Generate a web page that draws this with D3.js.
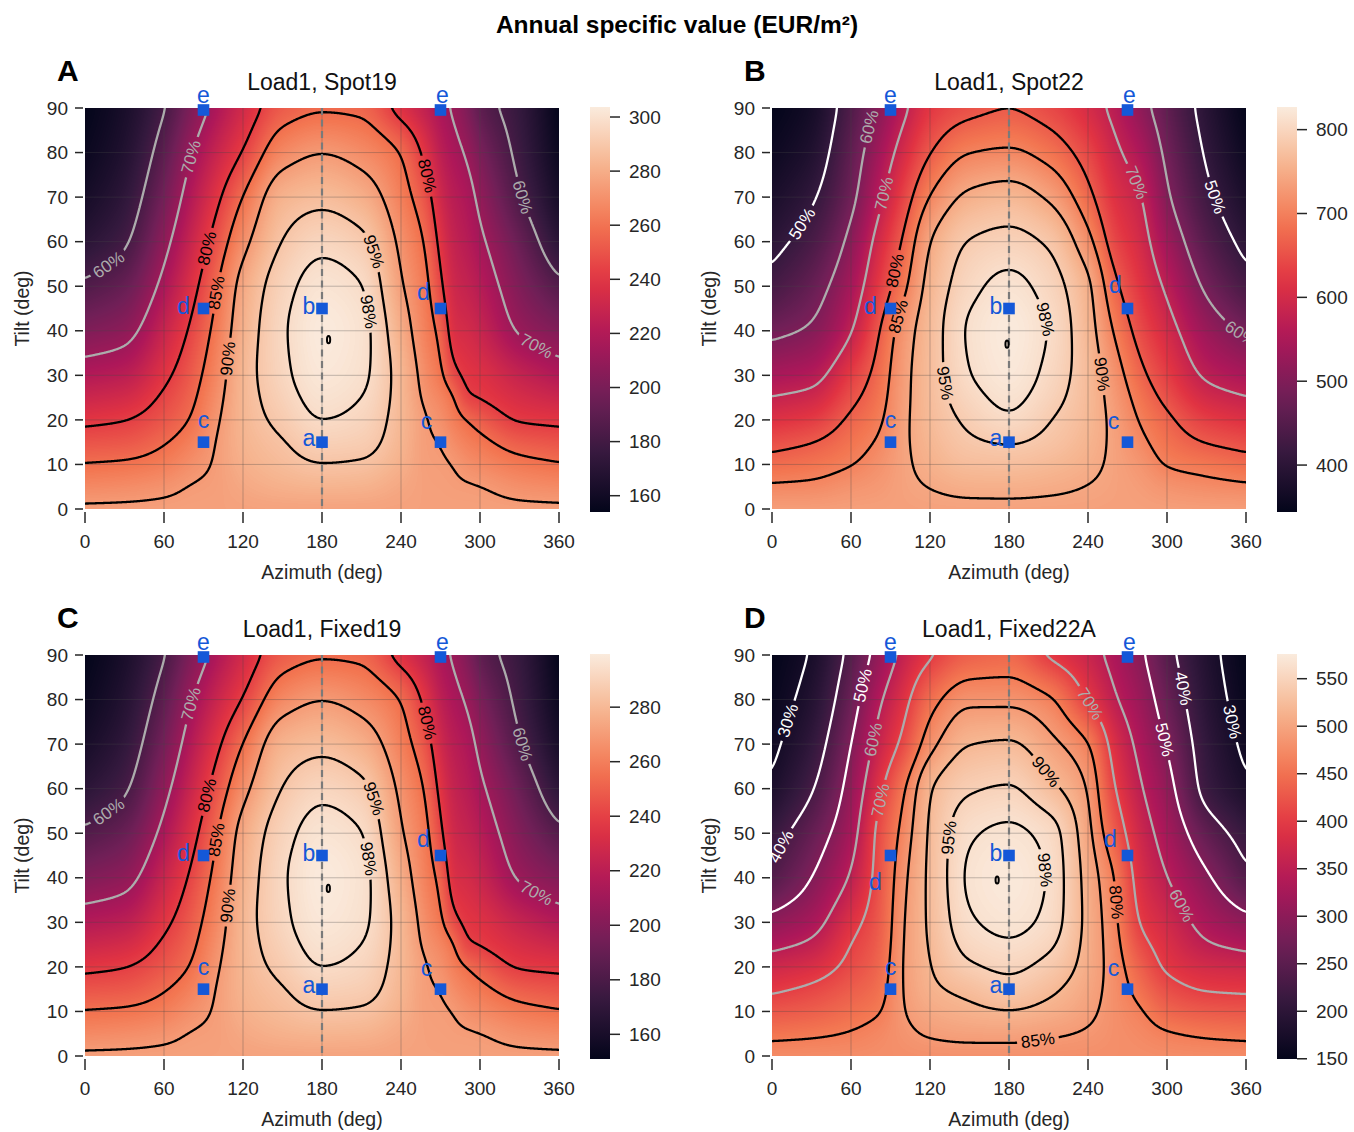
<!DOCTYPE html>
<html>
<head>
<meta charset="utf-8">
<script src="https://cdn.jsdelivr.net/npm/d3@7/dist/d3.min.js"></script>
<style>
html,body{margin:0;padding:0;background:#fff;}
svg{display:block;}
</style>
</head>
<body>
<svg id="fig" width="1354" height="1132"></svg>
<script>
// ================= DATA =================
// value grids in % of each panel's maximum; one inner array per azimuth, values along tiltGrid
const tiltGrid = [0, 5, 10, 15, 20, 25, 30, 40, 50, 60, 70, 80, 90];
const azGridSpot19 = [0, 30, 60, 80, 100, 120, 150, 180, 210, 240, 260, 270, 280, 290, 300, 330, 360];
const azGridSpot22 = [0, 30, 60, 80, 100, 120, 150, 180, 210, 240, 260, 280, 300, 330, 360];
const azGridFixed19 = [0, 30, 60, 80, 100, 120, 150, 180, 210, 240, 260, 270, 280, 290, 300, 330, 360];
const azGridFixed22A = [0, 30, 60, 80, 100, 120, 150, 180, 210, 240, 260, 280, 300, 330, 360];

const pctSpot19 = [
  [90.8, 88.0, 85.2, 82.2, 79.0, 75.7, 72.5, 66.5, 60.9, 56.0, 53.3, 51.7, 50.7],
  [90.8, 88.4, 85.6, 82.6, 79.9, 76.8, 73.7, 68.2, 63.6, 59.3, 56.8, 55.0, 53.8],
  [90.8, 89.2, 86.8, 84.7, 82.5, 80.8, 78.9, 75.3, 71.6, 68.3, 65.2, 62.4, 59.6],
  [90.8, 90.15, 88.7, 87.0, 85.2, 84.0, 82.9, 80.6, 78.0, 75.2, 72.4, 69.5, 66.0],
  [90.8, 90.6, 90.4, 90.15, 89.5, 88.7, 87.9, 86.4, 84.7, 82.0, 78.9, 75.3, 71.6],
  [90.8, 91.6, 92.4, 92.9, 93.2, 93.3, 93.3, 92.6, 91.6, 88.6, 85.1, 80.3, 76.4],
  [90.8, 92.6, 93.9, 94.8, 95.9, 96.7, 97.3, 97.6, 96.9, 95.1, 92.8, 88.0, 82.8],
  [90.8, 93.0, 94.9, 96.6, 98.0, 98.9, 99.5, 99.9, 99.1, 97.2, 94.0, 89.9, 84.3],
  [90.8, 92.8, 94.6, 96.2, 97.2, 98.0, 98.6, 98.9, 98.1, 95.9, 92.4, 88.4, 84.0],
  [90.8, 91.5, 92.5, 93.1, 93.4, 93.5, 93.4, 92.2, 90.45, 89.0, 86.9, 84.8, 77.9],
  [90.8, 90.7, 90.5, 90.3, 90.05, 89.0, 88.1, 86.6, 85.6, 84.1, 81.6, 78.1, 73.7],
  [90.8, 90.6, 90.35, 89.95, 88.9, 87.7, 86.0, 84.0, 81.0, 78.6, 76.2, 73.8, 71.4],
  [90.8, 90.4, 89.95, 88.4, 86.8, 85.3, 81.2, 77.6, 76.0, 74.7, 73.3, 71.5, 69.3],
  [90.8, 90.3, 88.8, 87.0, 85.1, 80.4, 79.1, 76.9, 74.8, 73.2, 71.9, 69.5, 66.4],
  [90.8, 90.1, 88.1, 86.1, 83.4, 79.7, 78.4, 75.4, 73.1, 71.0, 68.8, 66.0, 62.5],
  [90.8, 88.8, 86.3, 83.2, 79.6, 77.3, 75.0, 69.5, 66.6, 63.8, 60.5, 58.6, 57.5],
  [90.8, 88.2, 85.3, 82.2, 79.0, 75.7, 72.4, 66.6, 61.2, 56.0, 53.3, 51.7, 50.7]
];

const pctSpot22 = [
  [89.0, 85.6, 82.0, 78.3, 74.3, 70.2, 66.1, 58.4, 52.1, 48.2, 45.4, 43.2, 41.6],
  [89.0, 85.9, 83.0, 79.9, 75.9, 71.8, 67.8, 61.0, 56.7, 52.6, 49.2, 46.5, 44.5],
  [89.0, 87.3, 84.8, 83.0, 81.0, 78.6, 76.1, 69.6, 65.6, 61.9, 58.2, 56.0, 53.6],
  [89.0, 88.0, 86.8, 85.4, 84.0, 82.8, 81.7, 79.2, 75.2, 71.9, 67.8, 64.5, 60.8],
  [89.0, 89.2, 89.3, 89.3, 89.1, 88.8, 88.6, 87.5, 83.8, 80.8, 77.0, 72.8, 68.5],
  [89.0, 90.1, 91.2, 92.0, 92.6, 92.9, 93.0, 92.8, 91.7, 89.9, 85.2, 79.8, 75.0],
  [89.0, 91.0, 93.0, 94.5, 95.7, 96.9, 97.9, 98.4, 97.1, 95.2, 91.0, 84.9, 78.3],
  [89.0, 91.1, 93.2, 95.2, 97.5, 98.7, 99.5, 99.9, 98.8, 96.2, 92.2, 85.7, 79.6],
  [89.0, 90.7, 92.4, 94.1, 95.2, 96.4, 97.2, 97.9, 96.8, 94.5, 89.4, 83.2, 77.5],
  [89.0, 89.9, 90.9, 91.7, 92.3, 92.6, 92.7, 92.0, 91.0, 86.6, 81.6, 77.4, 72.8],
  [89.0, 89.2, 89.3, 89.2, 88.9, 88.2, 87.3, 84.6, 81.3, 77.5, 74.4, 71.4, 68.3],
  [89.0, 88.5, 87.5, 86.0, 84.6, 83.1, 81.3, 77.9, 75.0, 72.5, 70.3, 66.6, 62.3],
  [89.0, 87.3, 84.7, 82.8, 81.1, 78.6, 76.3, 72.6, 68.9, 64.9, 61.0, 58.5, 56.0],
  [89.0, 86.3, 83.4, 79.8, 76.3, 72.5, 69.1, 64.1, 58.8, 54.6, 51.4, 49.3, 47.7],
  [89.0, 85.7, 82.0, 78.3, 74.3, 70.2, 66.3, 58.8, 52.3, 48.2, 45.4, 43.2, 41.6]
];

const pctFixed19 = [
  [90.8, 88.0, 85.2, 82.2, 79.0, 75.7, 72.5, 66.5, 60.9, 56.0, 53.2, 51.5, 50.4],
  [90.8, 88.4, 85.6, 82.6, 79.9, 76.8, 73.7, 68.2, 63.6, 59.3, 56.8, 55.0, 53.6],
  [90.8, 89.2, 86.8, 84.7, 82.5, 80.8, 78.9, 75.3, 71.6, 68.3, 65.2, 62.4, 59.6],
  [90.8, 90.15, 88.7, 87.0, 85.2, 84.0, 82.9, 80.6, 78.0, 75.2, 72.4, 69.5, 66.0],
  [90.8, 90.6, 90.4, 90.15, 89.5, 88.7, 87.9, 86.4, 84.7, 82.0, 78.9, 75.3, 71.6],
  [90.8, 91.6, 92.4, 92.9, 93.2, 93.3, 93.3, 92.6, 91.6, 88.6, 85.1, 80.3, 76.4],
  [90.8, 92.6, 93.9, 94.8, 95.9, 96.7, 97.3, 97.6, 96.9, 95.1, 92.8, 88.0, 82.8],
  [90.8, 93.0, 94.9, 96.6, 98.0, 98.9, 99.5, 99.9, 99.1, 97.2, 94.0, 89.9, 84.3],
  [90.8, 92.8, 94.6, 96.2, 97.2, 98.0, 98.6, 98.9, 98.1, 95.9, 92.4, 88.4, 84.0],
  [90.8, 91.5, 92.5, 93.1, 93.4, 93.5, 93.4, 92.2, 90.45, 89.0, 86.9, 84.8, 77.9],
  [90.8, 90.7, 90.5, 90.3, 90.05, 89.0, 88.1, 86.6, 85.6, 84.1, 81.6, 78.1, 73.7],
  [90.8, 90.6, 90.35, 89.95, 88.9, 87.7, 86.0, 84.0, 81.0, 78.6, 76.2, 73.8, 71.4],
  [90.8, 90.4, 89.95, 88.4, 86.8, 85.3, 81.2, 77.6, 76.0, 74.7, 73.3, 71.5, 69.3],
  [90.8, 90.3, 88.8, 87.0, 85.1, 80.4, 79.1, 76.9, 74.8, 73.2, 71.9, 69.5, 66.4],
  [90.8, 90.1, 88.1, 86.1, 83.4, 79.7, 78.4, 75.4, 73.1, 71.0, 68.8, 66.0, 62.5],
  [90.8, 88.8, 86.3, 83.2, 79.6, 77.3, 75.0, 69.5, 66.6, 63.8, 60.5, 58.6, 57.5],
  [90.8, 88.2, 85.3, 82.2, 79.0, 75.7, 72.4, 66.6, 61.2, 56.0, 53.2, 51.5, 50.4]
];

const pctFixed22A = [
  [83.0, 78.5, 73.8, 68.9, 64.2, 58.0, 52.5, 41.8, 36.6, 31.1, 28.5, 27.0, 26.0],
  [83.0, 79.2, 75.0, 71.2, 66.5, 61.4, 56.9, 50.0, 45.0, 39.3, 35.6, 32.7, 30.5],
  [83.0, 80.4, 77.5, 74.8, 72.0, 70.1, 67.5, 61.0, 56.7, 53.4, 49.9, 46.1, 42.4],
  [83.0, 81.9, 79.4, 77.5, 76.0, 74.8, 73.8, 72.3, 71.3, 67.2, 62.2, 58.0, 52.5],
  [83.0, 83.9, 84.8, 85.2, 85.3, 85.1, 84.8, 83.8, 82.0, 79.3, 72.1, 67.5, 62.1],
  [83.0, 85.5, 87.5, 89.0, 89.8, 90.4, 90.8, 91.0, 90.7, 89.6, 83.2, 77.5, 68.8],
  [83.0, 86.3, 89.0, 91.2, 94.4, 96.3, 97.6, 98.5, 97.6, 94.5, 89.9, 83.8, 75.0],
  [83.0, 86.4, 89.8, 93.3, 95.8, 97.6, 98.8, 99.6, 98.6, 95.4, 90.6, 83.8, 76.2],
  [83.0, 85.6, 88.6, 91.0, 93.6, 95.8, 97.2, 97.8, 97.0, 91.5, 86.6, 81.0, 68.8],
  [83.0, 84.5, 86.0, 87.0, 87.9, 88.3, 88.5, 88.0, 86.5, 84.6, 80.4, 69.6, 63.0],
  [83.0, 83.2, 83.2, 83.1, 82.8, 82.2, 81.5, 80.0, 75.0, 70.5, 66.8, 61.0, 57.4],
  [83.0, 82.2, 80.5, 77.8, 75.3, 72.2, 69.5, 66.5, 63.9, 60.7, 57.6, 54.4, 51.2],
  [83.0, 80.6, 76.2, 72.6, 68.9, 66.9, 64.7, 60.2, 56.6, 53.0, 49.5, 46.0, 42.5],
  [83.0, 79.2, 74.4, 69.5, 65.4, 60.7, 57.3, 51.2, 44.5, 37.5, 35.7, 33.8, 32.4],
  [83.0, 78.5, 73.8, 68.9, 64.2, 58.0, 52.5, 41.8, 36.6, 31.1, 28.5, 27.0, 26.0]
];

const panelLetters = ["A", "B", "C", "D"];
const panelTitles = ["Load1, Spot19", "Load1, Spot22", "Load1, Fixed19", "Load1, Fixed22A"];
const panelMaxValue = [303.7, 827, 299.5, 576];          // EUR/m² at 100 %
const peakAz = [185, 178.5, 184.8, 171];
const peakTilt = [38, 37, 37.6, 39.5];

const levelsSpot19 = [60, 70, 80, 85, 90, 95, 98];
const levelsSpot22 = [50, 60, 70, 80, 85, 90, 95, 98];
const levelsFixed19 = [60, 70, 80, 85, 90, 95, 98];
const levelsFixed22A = [30, 40, 50, 60, 70, 80, 85, 90, 95, 98];

// contour label spots: [level, azimuth, tilt]
const labelsSpot19 = [[60,20,54],[70,81,79],[80,91,58.6],[85,100,48.4],[90,108.6,33.7],[95,217.7,57.5],[98,215,44.3],[80,261,74.9],[60,335.4,70.3],[70,343,36.7]];
const labelsSpot22 = [[50,26,63.5],[60,71.5,86],[70,81.6,71],[80,91.7,53.7],[85,98,43],[95,132,28.4],[98,208.4,42.7],[90,252.7,30.3],[70,278,73.4],[50,338.7,70.3],[60,356,39.3]];
const labelsFixed19 = [[60,20,54],[70,81,79],[80,91,58.6],[85,100,48.4],[90,108.6,33.7],[95,217.7,57.5],[98,215,44.3],[80,261,74.9],[60,335.4,70.3],[70,343,36.7]];
const labelsFixed22A = [[30,16,74.8],[40,14.6,45.8],[50,69,83.1],[60,76.5,71],[70,82.8,57.3],[95,134.6,49],[90,206,63.4],[98,195.7,41.4],[80,261.5,34.5],[85,202,3.4],[70,242.5,79.3],[50,298,71],[40,312,82.4],[30,346,74.8],[60,309.6,33.4]];

const cbTicksSpot19 = [160, 180, 200, 220, 240, 260, 280, 300];
const cbTicksSpot22 = [400, 500, 600, 700, 800];
const cbTicksFixed19 = [160, 180, 200, 220, 240, 260, 280];
const cbTicksFixed22A = [150, 200, 250, 300, 350, 400, 450, 500, 550];

const azTicks = [0, 60, 120, 180, 240, 300, 360];
const tiltTicks = [0, 10, 20, 30, 40, 50, 60, 70, 80, 90];

const markerNames = ["a", "b", "c", "c", "d", "d", "e", "e"];
const markerAz = [180, 180, 90, 270, 90, 270, 90, 270];
const markerTilt = [15, 45, 15, 15, 45, 45, 90, 90];

// ================= LAYOUT / STYLE =================
const FONT = "'Liberation Sans', Arial, Helvetica, sans-serif";
const W = 474, H = 401;
const origins = [{x: 85, y: 108}, {x: 772, y: 108}, {x: 85, y: 655}, {x: 772, y: 655}];
const grids = [pctSpot19, pctSpot22, pctFixed19, pctFixed22A];
const azGrids = [azGridSpot19, azGridSpot22, azGridFixed19, azGridFixed22A];
const levelSets = [levelsSpot19, levelsSpot22, levelsFixed19, levelsFixed22A];
const labelSets = [labelsSpot19, labelsSpot22, labelsFixed19, labelsFixed22A];
const cbTickSets = [cbTicksSpot19, cbTicksSpot22, cbTicksFixed19, cbTicksFixed22A];
const markerLabelOffsets = [[-13,4],[-13,5],[0,-14],[-14,-13],[-20,5],[-17,-9],[0,-7],[2,-7]];
const markerOffsetOverrides = {1: {5: [-12,-16]}, 3: {4: [-15,34]}};
const BLUE = "#1458d8";

const rocketStops = ["#03051a","#35193e","#701f57","#ad1759","#e13342","#f37651","#f6b48f","#faebdd"];
const rocket = d3.scaleLinear().domain(d3.range(rocketStops.length).map(i => i/(rocketStops.length-1)))
  .range(rocketStops).interpolate(d3.interpolateRgb).clamp(true);
const LUT = d3.range(256).map(i => { const c = d3.rgb(rocket(i/255)); return [c.r, c.g, c.b]; });

function lineColor(l) { return l <= 50 ? "#ffffff" : (l < 80 ? "#acacac" : "#000000"); }

// ---------- smooth rendering of the read grid ----------
function monotone(xs, ys) {
  const n = xs.length, h = [], d = [], m = new Array(n);
  for (let i = 0; i < n - 1; i++) { h[i] = xs[i+1] - xs[i]; d[i] = (ys[i+1] - ys[i]) / h[i]; }
  m[0] = d[0]; m[n-1] = d[n-2];
  for (let i = 1; i < n - 1; i++) {
    if (d[i-1] * d[i] <= 0) m[i] = 0;
    else { const w1 = 2*h[i] + h[i-1], w2 = h[i] + 2*h[i-1]; m[i] = (w1 + w2) / (w1/d[i-1] + w2/d[i]); }
  }
  return x => {
    if (x <= xs[0]) return ys[0];
    if (x >= xs[n-1]) return ys[n-1];
    let i = 0; while (x > xs[i+1]) i++;
    const t = (x - xs[i]) / h[i], t2 = t*t, t3 = t2*t;
    return (2*t3 - 3*t2 + 1)*ys[i] + (t3 - 2*t2 + t)*h[i]*m[i] + (-2*t3 + 3*t2)*ys[i+1] + (t3 - t2)*h[i]*m[i+1];
  };
}
const azMin = -3, dA = 0.5, nx = 733;   // -3 .. 363
const tMin = -2, dT = 0.25, ny = 377;   // -2 .. 92
function blurField(f, rx, ry, passes) {
  const a = Float64Array.from(f), b = new Float64Array(nx*ny);
  for (let p = 0; p < passes; p++) {
    for (let j = 0; j < ny; j++) {
      const row = j*nx; let s = 0;
      for (let k = -rx; k <= rx; k++) s += a[row + Math.min(nx-1, Math.max(0, k))];
      for (let i = 0; i < nx; i++) {
        b[row + i] = s / (2*rx + 1);
        s += a[row + Math.min(nx-1, i + rx + 1)] - a[row + Math.max(0, i - rx)];
      }
    }
    for (let i = 0; i < nx; i++) {
      let s = 0;
      for (let k = -ry; k <= ry; k++) s += b[i + Math.min(ny-1, Math.max(0, k))*nx];
      for (let j = 0; j < ny; j++) {
        a[i + j*nx] = s / (2*ry + 1);
        s += b[i + Math.min(ny-1, j + ry + 1)*nx] - b[i + Math.max(0, j - ry)*nx];
      }
    }
  }
  return Array.from(a);
}
function buildField(cols, azs) {
  const fine = cols.map(c => { const f = monotone(tiltGrid, c); const a = new Float64Array(ny);
    for (let j = 0; j < ny; j++) a[j] = f(tMin + j*dT); return a; });
  const field = new Array(nx*ny);
  for (let j = 0; j < ny; j++) {
    const f = monotone(azs, fine.map(a => a[j]));
    for (let i = 0; i < nx; i++) field[i + j*nx] = f(azMin + i*dA);
  }
  return blurField(field, 6, 6, 3);
}
function sample(field, az, tilt) {
  const fx = (az - azMin)/dA, fy = (tilt - tMin)/dT;
  const i = Math.min(nx-2, Math.floor(fx)), j = Math.min(ny-2, Math.floor(fy));
  const u = fx - i, v = fy - j;
  return (1-u)*(1-v)*field[i+j*nx] + u*(1-v)*field[i+1+j*nx] + (1-u)*v*field[i+(j+1)*nx] + u*v*field[i+1+(j+1)*nx];
}

// ================= DRAW =================
const svg = d3.select("#fig").attr("font-family", FONT);
const defs = svg.append("defs");
svg.append("rect").attr("width", 1354).attr("height", 1132).attr("fill", "#fff");

svg.append("text").attr("x", 677).attr("y", 33).attr("text-anchor", "middle")
  .attr("font-size", 24.5).attr("font-weight", "bold").attr("fill", "#000")
  .text("Annual specific value (EUR/m²)");

grids.forEach((grid, p) => {
  const ox = origins[p].x, oy = origins[p].y;
  const xS = d3.scaleLinear().domain([0, 360]).range([ox, ox + W]);
  const yS = d3.scaleLinear().domain([0, 90]).range([oy + H, oy]);
  const field = buildField(grid, azGrids[p]);
  const maxV = panelMaxValue[p];
  const vmin = d3.min(grid, c => d3.min(c)) * maxV / 100, vmax = maxV;
  const g = svg.append("g");

  // heatmap
  const cv = document.createElement("canvas"); cv.width = W; cv.height = H;
  const ctx = cv.getContext("2d"); const img = ctx.createImageData(W, H);
  for (let r = 0; r < H; r++) {
    const tilt = yS.invert(oy + r + 0.5);
    for (let c = 0; c < W; c++) {
      const az = xS.invert(ox + c + 0.5);
      const v = sample(field, az, tilt) * maxV / 100;
      const t = Math.max(0, Math.min(1, (v - vmin)/(vmax - vmin)));
      const col = LUT[Math.round(t*255)], k = (r*W + c)*4;
      img.data[k] = col[0]; img.data[k+1] = col[1]; img.data[k+2] = col[2]; img.data[k+3] = 255;
    }
  }
  ctx.putImageData(img, 0, 0);
  g.append("image").attr("href", cv.toDataURL()).attr("x", ox).attr("y", oy)
    .attr("width", W).attr("height", H).attr("preserveAspectRatio", "none");

  // faint grid
  const gg = g.append("g").attr("stroke", "rgba(70,70,70,0.32)").attr("stroke-width", 1);
  azTicks.slice(1, -1).forEach(a => gg.append("line").attr("x1", xS(a)).attr("x2", xS(a)).attr("y1", oy).attr("y2", oy + H));
  tiltTicks.slice(1, -1).forEach(t => gg.append("line").attr("x1", ox).attr("x2", ox + W).attr("y1", yS(t)).attr("y2", yS(t)));

  const clipId = "clip" + p;
  defs.append("clipPath").attr("id", clipId).append("rect").attr("x", ox).attr("y", oy).attr("width", W).attr("height", H);

  // contours
  const levels = levelSets[p];
  const contours = d3.contours().size([nx, ny]).thresholds(levels)(field);
  const toPx = ([gx, gy]) => [xS(azMin + (gx - 0.5)*dA), yS(tMin + (gy - 0.5)*dT)];
  const ringsByLevel = new Map();
  contours.forEach(c => {
    const rings = [];
    c.coordinates.forEach(poly => poly.forEach(ring => rings.push(ring.map(toPx))));
    ringsByLevel.set(c.value, rings);
  });

  const maskId = "mask" + p;
  const mask = defs.append("mask").attr("id", maskId).attr("maskUnits", "userSpaceOnUse")
    .attr("x", 0).attr("y", 0).attr("width", 1354).attr("height", 1132);
  mask.append("rect").attr("x", 0).attr("y", 0).attr("width", 1354).attr("height", 1132).attr("fill", "#fff");

  const clipG = g.append("g").attr("clip-path", `url(#${clipId})`);
  const lineG = clipG.append("g").attr("mask", `url(#${maskId})`);
  const line = d3.line();
  levels.forEach(l => {
    (ringsByLevel.get(l) || []).forEach(ring => {
      lineG.append("path").attr("d", line(ring)).attr("fill", "none")
        .attr("stroke", lineColor(l)).attr("stroke-width", 2.3).attr("stroke-linejoin", "round");
    });
  });

  // inline contour labels
  const labG = clipG.append("g");
  labelSets[p].forEach(([lvl, laz, ltilt]) => {
    const rings = ringsByLevel.get(lvl); if (!rings) return;
    const tx = xS(laz), ty = yS(ltilt);
    let best = null, bd = Infinity;
    rings.forEach(ring => ring.forEach((pt, k) => {
      if (pt[0] < ox + 1 || pt[0] > ox + W - 1 || pt[1] < oy + 1 || pt[1] > oy + H - 1) return;
      const d = (pt[0]-tx)**2 + (pt[1]-ty)**2;
      if (d < bd) { bd = d; best = {ring, k}; }
    }));
    if (!best) return;
    const {ring, k} = best, n = ring.length, P = ring[k];
    let a = k, b = k;
    for (let s = 0; s < n/2; s++) { a = (a - 1 + n) % n; if (Math.hypot(ring[a][0]-P[0], ring[a][1]-P[1]) > 10) break; }
    for (let s = 0; s < n/2; s++) { b = (b + 1) % n; if (Math.hypot(ring[b][0]-P[0], ring[b][1]-P[1]) > 10) break; }
    let ang = Math.atan2(ring[b][1]-ring[a][1], ring[b][0]-ring[a][0]) * 180/Math.PI;
    if (ang > 90) ang -= 180; if (ang < -90) ang += 180;
    const tr = `translate(${P[0]},${P[1]}) rotate(${ang})`;
    const txt = labG.append("text").attr("transform", tr).attr("text-anchor", "middle")
      .attr("dominant-baseline", "central").attr("font-size", 17).attr("fill", lineColor(lvl)).text(lvl + "%");
    const w = txt.node().getComputedTextLength();
    mask.append("rect").attr("x", -w/2 - 4).attr("y", -8).attr("width", w + 8).attr("height", 16)
      .attr("transform", tr).attr("fill", "#000");
  });

  // dashed south line
  g.append("line").attr("x1", xS(180)).attr("x2", xS(180)).attr("y1", oy).attr("y2", oy + H)
    .attr("stroke", "#7a7a7a").attr("stroke-width", 2.2).attr("stroke-dasharray", "7,4.5");

  // peak (tiny closed contour)
  g.append("ellipse").attr("cx", xS(peakAz[p])).attr("cy", yS(peakTilt[p])).attr("rx", 1.6).attr("ry", 3.6)
    .attr("fill", "none").attr("stroke", "#000").attr("stroke-width", 2);

  // markers
  markerNames.forEach((nm, i) => {
    const mx = xS(markerAz[i]), my = yS(markerTilt[i]) + (markerTilt[i] === 90 ? 2 : 0);
    g.append("rect").attr("x", mx - 5.8).attr("y", my - 5.8).attr("width", 11.6).attr("height", 11.6).attr("fill", BLUE);
    const off = (markerOffsetOverrides[p] && markerOffsetOverrides[p][i]) || markerLabelOffsets[i];
    g.append("text").attr("x", mx + off[0]).attr("y", my + off[1]).attr("text-anchor", "middle")
      .attr("font-size", 23).attr("fill", BLUE).text(nm);
  });

  // axes
  const ax = g.append("g").attr("stroke", "#262626").attr("stroke-width", 1.5);
  azTicks.forEach(a => ax.append("line").attr("x1", xS(a)).attr("x2", xS(a)).attr("y1", oy + H + 3).attr("y2", oy + H + 14));
  tiltTicks.forEach(t => ax.append("line").attr("x1", ox - 10).attr("x2", ox - 2).attr("y1", yS(t)).attr("y2", yS(t)));
  azTicks.forEach(a => g.append("text").attr("x", xS(a)).attr("y", oy + H + 39).attr("text-anchor", "middle")
    .attr("font-size", 19).attr("fill", "#262626").text(a));
  tiltTicks.forEach(t => g.append("text").attr("x", ox - 17).attr("y", yS(t)).attr("dy", "0.35em").attr("text-anchor", "end")
    .attr("font-size", 19).attr("fill", "#262626").text(t));
  g.append("text").attr("x", ox + W/2).attr("y", oy + H + 70).attr("text-anchor", "middle")
    .attr("font-size", 19.5).attr("fill", "#262626").text("Azimuth (deg)");
  g.append("text").attr("transform", `translate(${ox - 56},${oy + H/2}) rotate(-90)`).attr("text-anchor", "middle")
    .attr("font-size", 19.5).attr("fill", "#262626").text("Tilt (deg)");
  g.append("text").attr("x", ox + W/2).attr("y", oy - 18).attr("text-anchor", "middle")
    .attr("font-size", 23).attr("fill", "#111").text(panelTitles[p]);
  g.append("text").attr("x", ox - 28).attr("y", oy - 27).attr("font-size", 30).attr("font-weight", "bold")
    .attr("fill", "#000").text(panelLetters[p]);

  // colorbar
  const cbx = ox + 505, cbTop = oy - 1, cbBot = oy + H + 3;
  const gradId = "grad" + p;
  const grad = defs.append("linearGradient").attr("id", gradId).attr("x1", 0).attr("x2", 0).attr("y1", 1).attr("y2", 0);
  d3.range(0, 1.0001, 0.05).forEach(t => grad.append("stop").attr("offset", t).attr("stop-color", rocket(t)));
  g.append("rect").attr("x", cbx).attr("y", cbTop).attr("width", 20).attr("height", cbBot - cbTop).attr("fill", `url(#${gradId})`);
  const cS = d3.scaleLinear().domain([vmin, vmax]).range([cbBot, cbTop]);
  cbTickSets[p].forEach(v => {
    g.append("line").attr("x1", cbx + 20).attr("x2", cbx + 30).attr("y1", cS(v)).attr("y2", cS(v))
      .attr("stroke", "#262626").attr("stroke-width", 1.5);
    g.append("text").attr("x", cbx + 39).attr("y", cS(v)).attr("dy", "0.35em").attr("font-size", 19)
      .attr("fill", "#262626").text(v);
  });
});
</script>
</body>
</html>
